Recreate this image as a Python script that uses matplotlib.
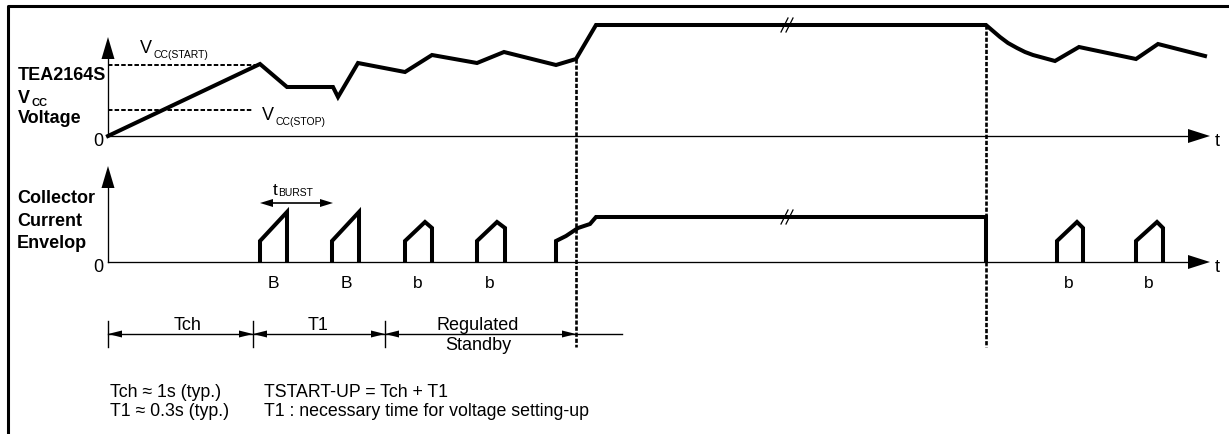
import matplotlib.pyplot as plt
import numpy as np

plt.rcParams['font.family'] = ['Liberation Sans', 'DejaVu Sans']

# Vcc trace
vcc_t = [108, 260, 287, 333, 338, 358, 405, 432, 477, 504, 556, 576, 596,
         986, 993, 1000, 1008, 1017, 1025, 1033, 1044, 1055, 1079, 1136, 1158, 1205]
vcc_v = [137, 65, 88, 88, 98, 64, 73, 56, 64, 53, 66, 60, 26,
         26, 32, 38, 44, 49, 53, 56, 59, 62, 48, 60, 45, 57]

# collector current bursts: big "B" (start, top of ramp, end)
big_start = [260, 332]
big_end = [287, 359]
big_low, big_high = 242, 213

# small "b" bursts: start, peak x, end
small_start = [405, 477, 1057, 1136]
small_peak = [425, 497, 1077, 1157]
small_end = [432, 505, 1083, 1163]
small_low, small_high, small_shoulder = 242, 223, 229

# last burst that turns into the steady current
run_t = [556, 556, 566, 572, 578, 590, 596, 986, 986]
run_i = [263, 242, 237, 233, 229, 225, 218, 218, 263]

burst_labels = ['B', 'B', 'b', 'b', 'b', 'b']
burst_label_x = [273, 346, 418, 490, 1069, 1149]

# time intervals along the bottom
phase_edges = [108, 253, 385, 576]
phase_names = ['Tch', 'T1', 'Regulated\nStandby']

v_start, v_stop = 65.5, 111
t_switch, t_off = 576, 986

zero_top, zero_bot = 137, 263
x0, x_end = 108, 1210

fig = plt.figure(figsize=(12.29, 4.35), dpi=100)
ax = fig.add_axes([0, 0, 1, 1])
ax.set_xlim(0, 1229)
ax.set_ylim(435, 0)
ax.axis('off')

K = 'black'
WAVE = 2.9


def head(tip, d, length=22, half=6.5):
    # filled triangle arrow head, d is the direction it points to
    d = np.array(d, float)
    n = np.array([-d[1], d[0]])
    tip = np.array(tip, float)
    base = tip - d * length
    pts = np.array([tip, base + n * half, base - n * half])
    ax.fill(pts[:, 0], pts[:, 1], color=K, lw=0, zorder=5)


# frame
ax.plot([8, 8, 1229], [435, 6.5, 6.5], color=K, lw=2.2, solid_capstyle='butt')

# axes
for z, top in [(zero_top, 38), (zero_bot, 167)]:
    ax.plot([x0, x0], [z, top + 20], color=K, lw=0.95)
    ax.plot([x0, x_end - 20], [z, z], color=K, lw=0.95)
    head((x0, top), (0, -1))
    head((x_end, z), (1, 0), length=22, half=7)
    ax.text(103, z + 9.5, '0', fontsize=13, ha='right', va='baseline')
    ax.text(1215, z + 9.5, 't', fontsize=13, ha='left', va='baseline')

# threshold levels
ax.plot([x0, 260], [v_start, v_start], color=K, lw=1.4, dashes=(2.3, 1.1))
ax.plot([x0, 252], [v_stop, v_stop], color=K, lw=1.4, dashes=(2.3, 1.1))
ax.text(140, 53, 'V', fontsize=13, va='baseline')
ax.text(153, 58, 'CC(START)', fontsize=7.5, va='baseline')
ax.text(262, 120, 'V', fontsize=13, va='baseline')
ax.text(275, 125, 'CC(STOP)', fontsize=7.5, va='baseline')

# Vcc trace
ax.plot(vcc_t, vcc_v, color=K, lw=WAVE, solid_joinstyle='miter', zorder=4)

# bursts
for s, e in zip(big_start, big_end):
    ax.plot([s, s, e, e], [zero_bot, big_low, big_high, zero_bot],
            color=K, lw=WAVE, solid_joinstyle='miter', solid_capstyle='butt', zorder=4)
for s, p, e in zip(small_start, small_peak, small_end):
    ax.plot([s, s, p, e, e], [zero_bot, small_low, small_high, small_shoulder, zero_bot],
            color=K, lw=WAVE, solid_joinstyle='miter', solid_capstyle='butt', zorder=4)
ax.plot(run_t, run_i, color=K, lw=WAVE, solid_joinstyle='miter', solid_capstyle='butt', zorder=4)

for lab, bx in zip(burst_labels, burst_label_x):
    ax.text(bx, 288, lab, fontsize=12.5, ha='center', va='baseline')

# break marks
for y in [26, 218]:
    for dx in [0, 5]:
        ax.plot([781 + dx, 788 + dx], [y + 7, y - 7], color=K, lw=0.9, zorder=6)

# switching instants
ax.plot([t_switch, t_switch], [60, 348], color=K, lw=1.9, dashes=(1.6, 0.7), zorder=3)
ax.plot([t_off, t_off], [26, 348], color=K, lw=1.9, dashes=(1.6, 0.7), zorder=3)

# t burst dimension
ax.plot([260 + 10, 333 - 10], [204, 204], color=K, lw=1.2)
head((260, 204), (-1, 0), length=13, half=4)
head((333, 204), (1, 0), length=13, half=4)
ax.text(273, 195.5, 't', fontsize=12.5, va='baseline')
ax.text(278, 196, 'BURST', fontsize=7.5, va='baseline')

# phase intervals
ya = 335
ax.plot([phase_edges[0], 622], [ya, ya], color=K, lw=1.0)
for xe in phase_edges[:-1]:
    ax.plot([xe, xe], [322, 348], color=K, lw=1.0)
for a, b in zip(phase_edges[:-1], phase_edges[1:]):
    head((a, ya), (-1, 0), length=14, half=3.5)
    head((b, ya), (1, 0), length=14, half=3.5)
ax.text(188, 330, phase_names[0], fontsize=13, ha='center', va='baseline')
ax.text(318, 330, phase_names[1], fontsize=13, ha='center', va='baseline')
reg, stb = phase_names[2].split('\n')
ax.text(478, 330, reg, fontsize=13, ha='center', va='baseline')
ax.text(478, 350, stb, fontsize=13, ha='center', va='baseline')

# axis titles
ax.text(18, 79.5, 'TEA2164S', fontsize=13, fontweight='bold', va='baseline')
ax.text(18, 103, 'V', fontsize=13, fontweight='bold', va='baseline')
ax.text(32, 106, 'CC', fontsize=8, fontweight='bold', va='baseline')
ax.text(18, 123, 'Voltage', fontsize=13, fontweight='bold', va='baseline')
ax.text(17, 203, 'Collector', fontsize=13, fontweight='bold', va='baseline')
ax.text(17, 226, 'Current', fontsize=13, fontweight='bold', va='baseline')
ax.text(17, 248, 'Envelop', fontsize=13, fontweight='bold', va='baseline')

# notes
ax.text(110, 397, 'Tch \u2248 1s (typ.)', fontsize=12.8, va='baseline')
ax.text(110, 416.5, 'T1 \u2248 0.3s (typ.)', fontsize=12.8, va='baseline')
ax.text(264, 397, 'TSTART-UP = Tch + T1', fontsize=12.8, va='baseline')
ax.text(264, 416.5, 'T1 : necessary time for voltage setting-up', fontsize=12.8, va='baseline')

fig.savefig('out.png', dpi=100)
